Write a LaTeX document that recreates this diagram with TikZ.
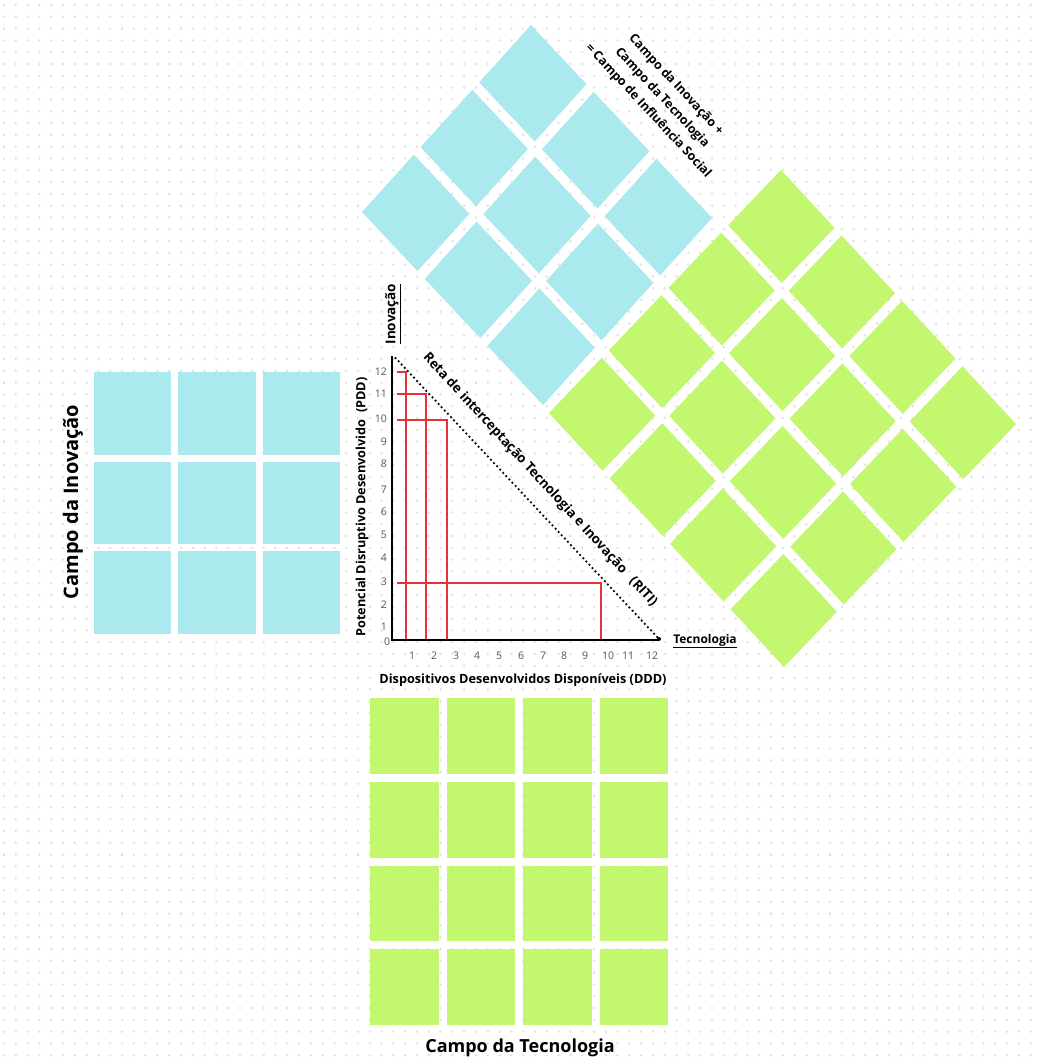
\documentclass[tikz,border=0pt]{standalone}
\usepackage{fontspec}
\setmainfont{Open Sans}
\usetikzlibrary{calc}
\definecolor{tilecyan}{RGB}{170,233,238}
\definecolor{tilegreen}{RGB}{195,247,112}
\definecolor{redline}{RGB}{232,50,58}
\definecolor{dotgray}{RGB}{226,226,226}
\definecolor{ticktext}{RGB}{85,85,85}
\begin{document}
\begin{tikzpicture}[x=1pt,y=-1pt,
  cyantile/.style={fill=tilecyan},
  greentile/.style={fill=tilegreen},
  axisline/.style={line width=2.6pt, black},
  redrect/.style={line width=2pt, redline},
  riti/.style={black, line width=2.5pt, line cap=round, dash pattern=on 0pt off 4.5pt},
  ticklab/.style={font=\fontsize{10.5}{12}\selectfont, text=ticktext, inner sep=0pt},
  boldlab/.style={font=\bfseries\fontsize{12}{14}\selectfont, inner sep=0pt},
  axlab/.style={font=\bfseries\fontsize{12.7}{14}\selectfont, inner sep=0pt},
  sumlab/.style={font=\bfseries\fontsize{12.5}{19}\selectfont, inner sep=0pt, align=center},
  dotrow/.style={dotgray, line width=2.8pt, line cap=round, dash pattern=on 0pt off 11.8pt}
]
\fill[white] (0,0) rectangle (1041,1061);
\useasboundingbox (0,0) rectangle (1041,1061);
% dotted background
\foreach \r in {0,...,89} { \draw[dotrow] (4,5+\r*11.8) -- (1041,5+\r*11.8); }

% left cyan grid (Campo da Inovacao)
\foreach \i in {0,1,2} { \foreach \j in {0,1,2} {
  \pgfmathsetmacro\xa{94+\i*84.3}
  \pgfmathsetmacro\ya{372+\j*89.7}
  \fill[cyantile] (\xa,\ya) rectangle ++(77.3,82.7);
}}

% bottom green grid (Campo da Tecnologia)
\foreach \i in {0,1,2,3} { \foreach \j in {0,1,2,3} {
  \pgfmathsetmacro\xa{370+\i*76.5}
  \pgfmathsetmacro\ya{698+\j*83.75}
  \fill[greentile] (\xa,\ya) rectangle ++(68.5,75.75);
}}

% tilted cyan grid
\coordinate (CL) at (362,212);
\coordinate (CU) at (169,-187);
\coordinate (CV) at (181,193);
\foreach \i in {0,1,2} { \foreach \j in {0,1,2} {
  \pgfmathsetmacro\sa{\i*0.34667}
  \pgfmathsetmacro\sb{\sa+0.30667}
  \pgfmathsetmacro\ta{\j*0.34667}
  \pgfmathsetmacro\tb{\ta+0.30667}
  \fill[cyantile] ($(CL)+\sa*(CU)+\ta*(CV)$) -- ($(CL)+\sb*(CU)+\ta*(CV)$)
     -- ($(CL)+\sb*(CU)+\tb*(CV)$) -- ($(CL)+\sa*(CU)+\tb*(CV)$) -- cycle;
}}

% tilted green grid
\coordinate (GL) at (549,413);
\coordinate (GU) at (232,-243);
\coordinate (GV) at (235,254);
\foreach \i in {0,1,2,3} { \foreach \j in {0,1,2,3} {
  \pgfmathsetmacro\sa{\i*0.2575}
  \pgfmathsetmacro\sb{\sa+0.2275}
  \pgfmathsetmacro\ta{\j*0.2575}
  \pgfmathsetmacro\tb{\ta+0.2275}
  \fill[greentile] ($(GL)+\sa*(GU)+\ta*(GV)$) -- ($(GL)+\sb*(GU)+\ta*(GV)$)
     -- ($(GL)+\sb*(GU)+\tb*(GV)$) -- ($(GL)+\sa*(GU)+\tb*(GV)$) -- cycle;
}}

% chart
\coordinate (O) at (392,640);
\coordinate (Ytop) at (392,356);
\coordinate (Xend) at (659,640);
\coordinate (Dstart) at (395.5,358);
\coordinate (Dend) at (659,639);

\draw[redrect] (397,372) -| (406,640);
\draw[redrect] (397,394) -| (426,640);
\draw[redrect] (397,420) -| (447,640);
\draw[redrect] (397,583) -| (601,640);

\draw[axisline] (Ytop) -- (O) -- (Xend);
\draw[riti] (Dstart) -- (Dend);
\fill[black] (Dend) circle (2pt);

\foreach \v/\yy in {1/627,2/605,3/582,4/558,5/535,6/512,7/490,8/464,9/442,10/419,11/394,12/372}
  { \node[ticklab, anchor=east] (ty\v) at (387,\yy) {\v}; }
\node[ticklab] (t0) at (387,642) {0};
\foreach \v/\xx in {1/412,2/434,3/456,4/477,5/499,6/521,7/543,8/564,9/585,10/608,11/628,12/652}
  { \node[ticklab] (tx\v) at (\xx,656) {\v}; }

\node[boldlab, font=\bfseries\fontsize{13.5}{15}\selectfont, rotate=90] (inov) at (393,314) {\underline{Inovação}};
\node[axlab, rotate=90] (pdd) at (362,507) {Potencial Disruptivo Desenvolvido\ \ (PDD)};
\node[axlab] (ddd) at (523,680) {Dispositivos Desenvolvidos Disponíveis (DDD)};
\node[boldlab] (tec) at (705,641) {\underline{Tecnologia}};
\node[boldlab, font=\bfseries\fontsize{13.3}{15}\selectfont, rotate=-47.4] (ritilab) at (540,480) {Reta de interceptação Tecnologia e Inovação\ \ \ (RITI)};
\node[sumlab, rotate=-47] (soma) at (662,98) {Campo da Inovação +\\Campo da Tecnologia\\= Campo de Influência Social};
\node[boldlab, font=\bfseries\fontsize{20}{24}\selectfont, rotate=90] (cinov) at (73,502) {Campo da Inovação};
\node[boldlab, font=\bfseries\fontsize{18}{22}\selectfont] (ctec) at (520,1048) {Campo da Tecnologia};
\end{tikzpicture}
\end{document}
